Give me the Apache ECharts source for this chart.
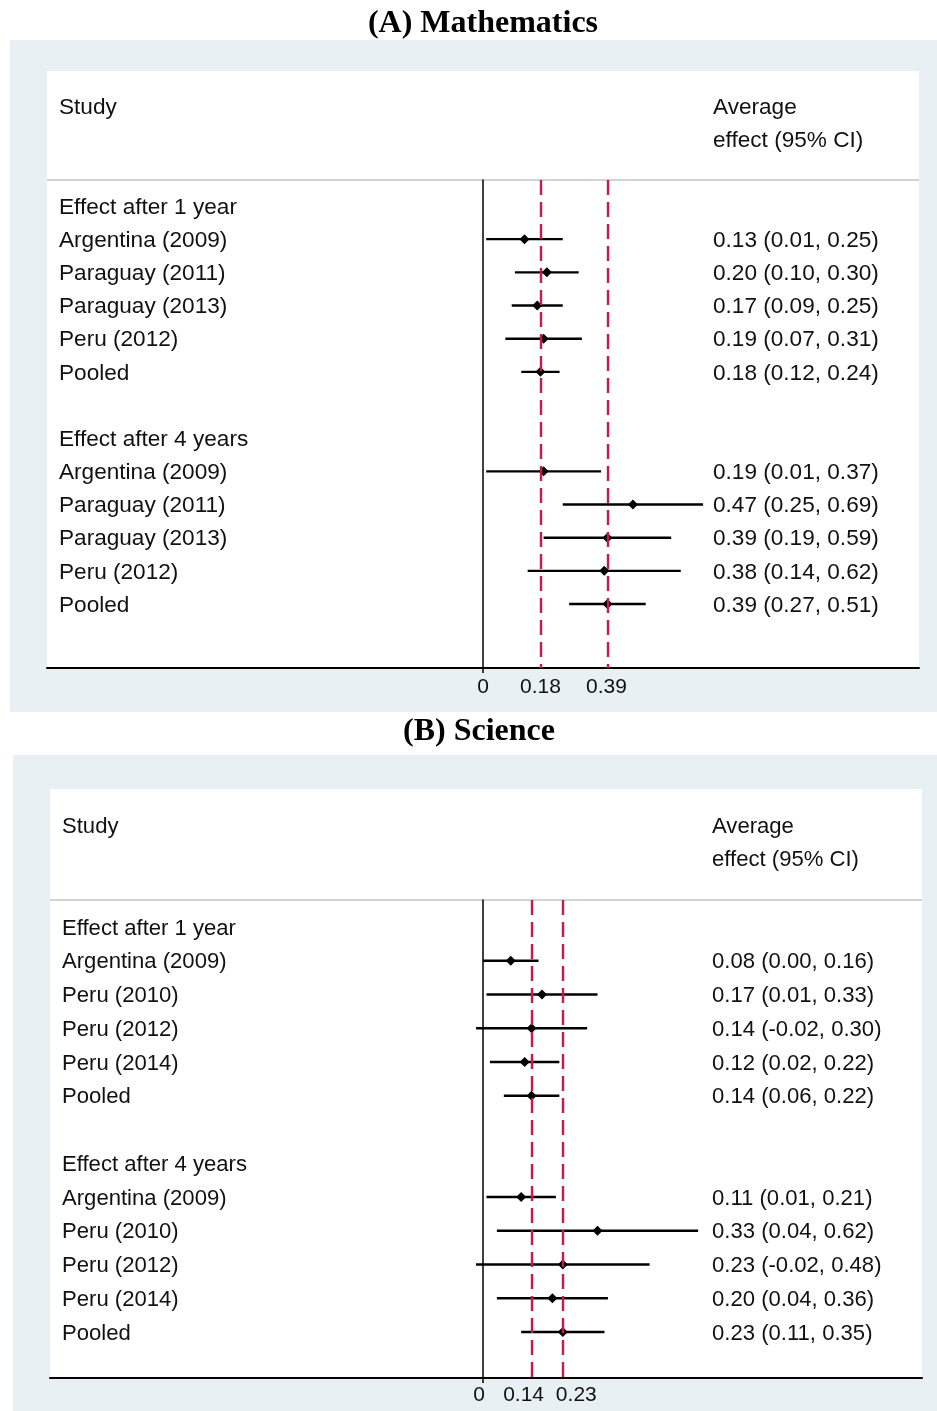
<!DOCTYPE html>
<html>
<head>
<meta charset="utf-8">
<script src="https://cdn.jsdelivr.net/npm/echarts@6/dist/echarts.min.js"></script>
<style>
html,body{margin:0;padding:0;background:#fff;}
#chart{width:937px;height:1411px;}
</style>
</head>
<body>
<div id="chart"></div>
<script>
// ---- Data: (A) Mathematics ----
const mathLabels = ['Effect after 1 year','Argentina (2009)','Paraguay (2011)','Paraguay (2013)','Peru (2012)','Pooled','',
                    'Effect after 4 years','Argentina (2009)','Paraguay (2011)','Paraguay (2013)','Peru (2012)','Pooled'];
const mathEst = [null,0.13,0.20,0.17,0.19,0.18,null,null,0.19,0.47,0.39,0.38,0.39];
const mathLo  = [null,0.01,0.10,0.09,0.07,0.12,null,null,0.01,0.25,0.19,0.14,0.27];
const mathHi  = [null,0.25,0.30,0.25,0.31,0.24,null,null,0.37,0.69,0.59,0.62,0.51];
const mathPooled = [0.18, 0.39];
const mathTicks = [0, 0.18, 0.39];

// ---- Data: (B) Science ----
const sciLabels = ['Effect after 1 year','Argentina (2009)','Peru (2010)','Peru (2012)','Peru (2014)','Pooled','',
                   'Effect after 4 years','Argentina (2009)','Peru (2010)','Peru (2012)','Peru (2014)','Pooled'];
const sciEst = [null,0.08,0.17,0.14,0.12,0.14,null,null,0.11,0.33,0.23,0.20,0.23];
const sciLo  = [null,0.00,0.01,-0.02,0.02,0.06,null,null,0.01,0.04,-0.02,0.04,0.11];
const sciHi  = [null,0.16,0.33,0.30,0.22,0.22,null,null,0.21,0.62,0.48,0.36,0.35];
const sciPooled = [0.14, 0.23];
const sciTicks = [0, 0.14, 0.23];

const FONT = "'Liberation Sans', Arial, sans-serif";
const FS_A = 22.6, FS_B = 22.1;
const TXT = '#111';
const RED = '#c9184a';
const DY = 1.5; // text vertical nudge

function fmt(v){ return v.toFixed(2); }

function rows(labels, est, lo, hi){
  return labels.map((l,i)=>[i, est[i], lo[i], hi[i]]);
}

function makeRender(labels, rightOffset, fs){
  return function(params, api){
    const i = api.value(0);
    const cs = params.coordSys;
    const y = api.coord([0, i])[1];
    const children = [{
      type:'text',
      style:{text:labels[i], x:cs.x+12, y:y+DY, textAlign:'left', textVerticalAlign:'middle',
             font:fs+'px '+FONT, fill:TXT}
    }];
    const e = api.value(1);
    if (e != null && !isNaN(e)) {
      const lo = api.value(2), hi = api.value(3);
      const p0 = api.coord([lo, i]), p1 = api.coord([hi, i]), pe = api.coord([e, i]);
      children.push({type:'line', shape:{x1:p0[0], y1:y, x2:p1[0], y2:y}, style:{stroke:'#000', lineWidth:2.4}});
      const r = 5;
      children.push({type:'polygon', shape:{points:[[pe[0],y-r],[pe[0]+r,y],[pe[0],y+r],[pe[0]-r,y]]}, style:{fill:'#000'}});
      children.push({type:'text', style:{text:fmt(e)+' ('+fmt(lo)+', '+fmt(hi)+')', x:cs.x+rightOffset, y:y+DY,
             textAlign:'left', textVerticalAlign:'middle', font:fs+'px '+FONT, fill:TXT}});
    }
    return {type:'group', children:children};
  };
}

// label nudges (px) to mimic the reference's spread-out tick labels
function xAxisCfg(grid, min, max, ticks, shifts, margin){
  const rich = {};
  ticks.forEach((t,k)=>{
    const s = shifts[k] || 0;
    rich['t'+k] = {fontSize:21, fontFamily:FONT, color:TXT,
                   padding: s < 0 ? [0, -2*s, 0, 0] : [0, 0, 0, 2*s]};
  });
  return {
    type:'value', gridIndex:grid, min:min, max:max, position:'bottom',
    axisLine:{show:true, onZero:false, lineStyle:{color:'#000', width:2}},
    axisTick:{show:true, customValues:[0], length:5, lineStyle:{color:'#000', width:1.5}},
    axisLabel:{show:true, customValues:ticks, hideOverlap:false, margin:margin,
               formatter:function(v){
                 let k = ticks.findIndex(t=>Math.abs(t-v)<1e-9);
                 return '{t'+k+'|'+String(ticks[k])+'}';
               },
               rich:rich, fontSize:21, fontFamily:FONT, color:TXT},
    splitLine:{show:false}
  };
}
function yAxisCfg(grid, min, max){
  return {
    type:'value', gridIndex:grid, inverse:true, min:min, max:max,
    axisLine:{show:true, onZero:true, lineStyle:{color:'#000', width:1.5}},
    axisTick:{show:false}, axisLabel:{show:false}, splitLine:{show:false}
  };
}
function markLines(vals){
  return {
    silent:true, symbol:['none','none'], label:{show:false},
    lineStyle:{color:RED, type:[15,7], width:2.4},
    data: vals.map(v=>({xAxis:v}))
  };
}

const BG = '#e8f0f3';
const TITLE_FONT = "bold 32px 'Liberation Serif', 'Times New Roman', serif";
function hdr(text, x, y, fs){
  return {type:'text', style:{text:text, x:x, y:y+DY, textVerticalAlign:'middle', font:fs+'px '+FONT, fill:TXT}};
}
const chart = echarts.init(document.getElementById('chart'), null, {renderer:'canvas'});
chart.setOption({
  animation:false,
  backgroundColor:'#fff',
  graphic:[
    {type:'rect', z:-100, shape:{x:10, y:40, width:927, height:672}, style:{fill:BG}},
    {type:'rect', z:-99, shape:{x:47, y:71, width:872, height:597}, style:{fill:'#fff'}},
    {type:'line', z:-98, shape:{x1:47, y1:180, x2:919, y2:180}, style:{stroke:'#c4c4c4', lineWidth:1.5}},
    {type:'rect', z:-100, shape:{x:13, y:755, width:924, height:656}, style:{fill:BG}},
    {type:'rect', z:-99, shape:{x:50, y:789, width:872, height:589}, style:{fill:'#fff'}},
    {type:'line', z:-98, shape:{x1:50, y1:900, x2:922, y2:900}, style:{stroke:'#c4c4c4', lineWidth:1.5}},
    {type:'text', style:{text:'(A) Mathematics', x:483, y:24, textAlign:'center', textVerticalAlign:'middle',
      font:TITLE_FONT, fill:'#000'}},
    {type:'text', style:{text:'(B) Science', x:479, y:732, textAlign:'center', textVerticalAlign:'middle',
      font:TITLE_FONT, fill:'#000'}},
    hdr('Study', 59, 106, FS_A),
    hdr('Average', 713, 106, FS_A),
    hdr('effect (95% CI)', 713, 139, FS_A),
    hdr('Study', 62, 825, FS_B),
    hdr('Average', 712, 825, FS_B),
    hdr('effect (95% CI)', 712, 858, FS_B)
  ],
  grid:[
    {left:47, top:180, width:872, height:488, containLabel:false},
    {left:50, top:900, width:872, height:478, containLabel:false}
  ],
  xAxis:[
    xAxisCfg(0, (47-483)/319, (919-483)/319, mathTicks, [0, 0, -1], 9),
    xAxisCfg(1, (50-483)/347, (922-483)/347, sciTicks, [-4, -8, 13.5], 7)
  ],
  yAxis:[
    yAxisCfg(0, (180-206)/33.17, (668-206)/33.17),
    yAxisCfg(1, (900-927)/33.75, (1378-927)/33.75)
  ],
  series:[
    {type:'custom', xAxisIndex:0, yAxisIndex:0, renderItem:makeRender(mathLabels, 666, FS_A),
     data:rows(mathLabels, mathEst, mathLo, mathHi), markLine:markLines(mathPooled), z:3},
    {type:'custom', xAxisIndex:1, yAxisIndex:1, renderItem:makeRender(sciLabels, 662, FS_B),
     data:rows(sciLabels, sciEst, sciLo, sciHi), markLine:markLines(sciPooled), z:3}
  ]
});
</script>
</body>
</html>
